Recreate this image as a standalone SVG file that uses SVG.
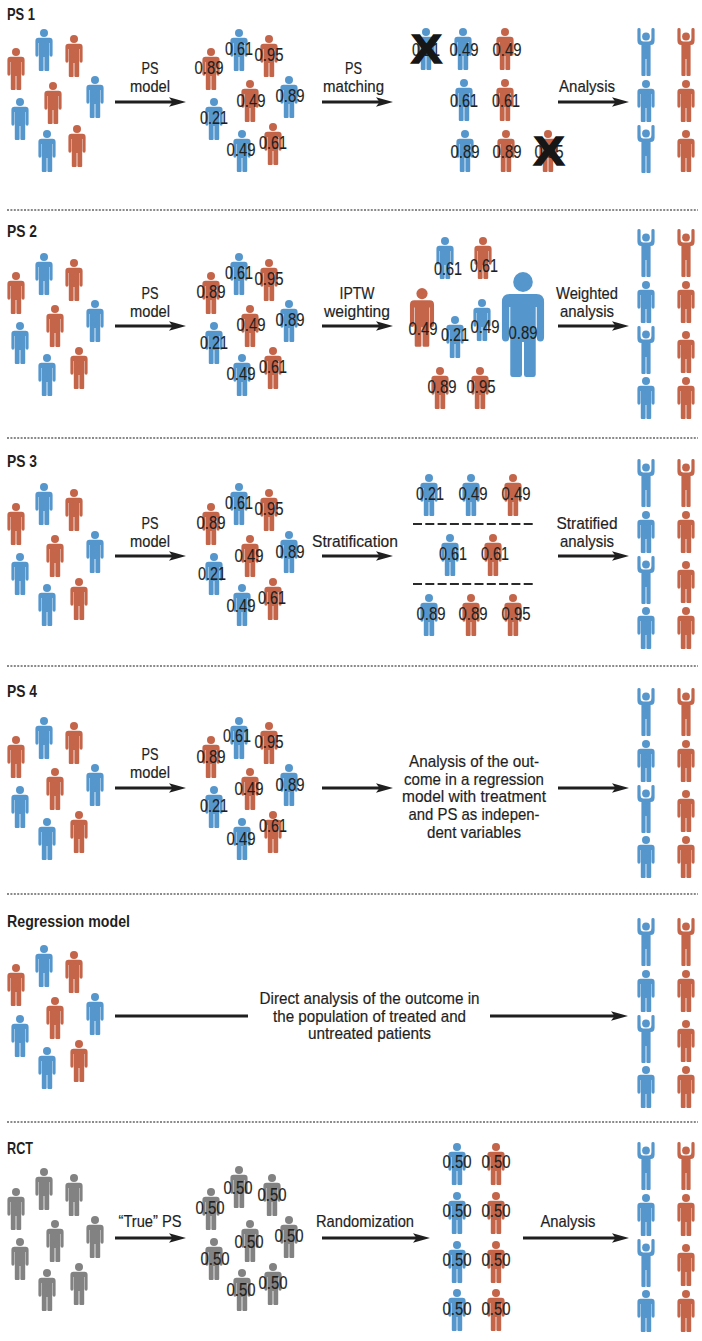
<svg xmlns="http://www.w3.org/2000/svg" width="702" height="1341" viewBox="0 0 702 1341">
<style>
  .b{fill:#5597cd}
  .r{fill:#c4654a}
  .g{fill:#828282}
  text{font-family:"Liberation Sans",Arial,sans-serif;fill:#1f1f1f}
  .h{font-size:16.5px;font-weight:700}
  .l{font-size:17px;text-anchor:middle;stroke:#1f1f1f;stroke-width:.2}
  .v{font-size:18px;text-anchor:middle;stroke:#1f1f1f;stroke-width:.15}
  .x{font-size:41px;font-weight:700;text-anchor:middle;fill:#161616;stroke:#161616;stroke-width:1.4}
  .c{fill:none;stroke:#1f1f1f;stroke-width:3}
  .d{fill:none;stroke:#8a8a8a;stroke-width:2;stroke-dasharray:2 1.4}
  .s{fill:none;stroke:#2a2a2a;stroke-width:2;stroke-dasharray:9 3.3}
</style>
<defs>
  <marker id="head" markerUnits="userSpaceOnUse" markerWidth="17" markerHeight="10" refX="7" refY="5" orient="auto">
    <path d="M0 0.3L17 5L0 9.7L3.5 5Z" fill="#1f1f1f"/>
  </marker>
  <!-- standing figure: origin at the top centre of the head -->
  <g id="p">
    <circle cx="0" cy="4" r="4"/>
    <path d="M-5.5 8.8H5.5Q8.6 8.8 8.6 12V26Q8.6 27.8 7.1 27.8Q5.6 27.8 5.6 26V14H5.2V41Q5.2 42 4.2 42H1.4Q.4 42 .4 41V28H-.4V41Q-.4 42 -1.4 42H-4.2Q-5.2 42 -5.2 41V14H-5.6V26Q-5.6 27.8 -7.1 27.8Q-8.6 27.8 -8.6 26V12Q-8.6 8.8 -5.5 8.8Z"/>
  </g>
  <!-- figure with both arms raised -->
  <g id="u">
    <circle cx="0" cy="8.5" r="3.9"/>
    <path d="M-8.6 1.4Q-8.6 0 -7 0Q-5.4 0 -5.4 1.4V10Q-5.4 13.5 -2.5 13.5H2.5Q5.4 13.5 5.4 10V1.4Q5.4 0 7 0Q8.6 0 8.6 1.4V12.5Q8.6 17 4.6 17V47Q4.6 48 3.6 48H1.3Q.4 48 .4 47V31H-.4V47Q-.4 48 -1.3 48H-3.6Q-4.6 48 -4.6 47V17Q-8.6 17 -8.6 12.5Z"/>
  </g>
  <!-- four-row outcome column pair -->
  <g id="out4">
    <use href="#u" x="646" y="0" class="b"/><use href="#u" x="686" y="0" class="r"/>
    <use href="#p" x="646" y="52" class="b"/><use href="#p" x="686" y="52" class="r"/>
    <use href="#u" x="646" y="97" class="b"/><use href="#p" x="686" y="102" class="r"/>
    <use href="#p" x="646" y="148" class="b"/><use href="#p" x="686" y="148" class="r"/>
  </g>
</defs>
<rect width="702" height="1341" fill="#fff"/>

<g id="separators">
  <line class="d" x1="7" x2="698" y1="210" y2="210"/>
  <line class="d" x1="7" x2="698" y1="438" y2="438"/>
  <line class="d" x1="7" x2="698" y1="666" y2="666"/>
  <line class="d" x1="7" x2="698" y1="894" y2="894"/>
  <line class="d" x1="7" x2="698" y1="1122" y2="1122"/>
</g>

<g id="headings">
  <text class="h" x="7" y="20" textLength="28" lengthAdjust="spacingAndGlyphs">PS 1</text>
  <text class="h" x="7" y="237" textLength="30" lengthAdjust="spacingAndGlyphs">PS 2</text>
  <text class="h" x="7" y="467" textLength="30" lengthAdjust="spacingAndGlyphs">PS 3</text>
  <text class="h" x="7" y="697" textLength="30" lengthAdjust="spacingAndGlyphs">PS 4</text>
  <text class="h" x="7" y="927" textLength="123" lengthAdjust="spacingAndGlyphs">Regression model</text>
  <text class="h" x="7" y="1154" textLength="26" lengthAdjust="spacingAndGlyphs">RCT</text>
</g>

<g id="connectors">
  <line class="c" x1="115" x2="176" y1="102" y2="102" marker-end="url(#head)"/>
  <line class="c" x1="322" x2="383" y1="102" y2="102" marker-end="url(#head)"/>
  <line class="c" x1="558" x2="619" y1="102" y2="102" marker-end="url(#head)"/>
  <line class="c" x1="115" x2="176" y1="326" y2="326" marker-end="url(#head)"/>
  <line class="c" x1="322" x2="383" y1="326" y2="326" marker-end="url(#head)"/>
  <line class="c" x1="558" x2="619" y1="326" y2="326" marker-end="url(#head)"/>
  <line class="c" x1="115" x2="176" y1="556" y2="556" marker-end="url(#head)"/>
  <line class="c" x1="322" x2="383" y1="556" y2="556" marker-end="url(#head)"/>
  <line class="c" x1="558" x2="619" y1="556" y2="556" marker-end="url(#head)"/>
  <line class="c" x1="115" x2="176" y1="788" y2="788" marker-end="url(#head)"/>
  <line class="c" x1="322" x2="383" y1="788" y2="788" marker-end="url(#head)"/>
  <line class="c" x1="558" x2="619" y1="788" y2="788" marker-end="url(#head)"/>
  <line class="c" x1="115" x2="248" y1="1016" y2="1016"/>
  <line class="c" x1="490" x2="618" y1="1016" y2="1016" marker-end="url(#head)"/>
  <line class="c" x1="115" x2="176" y1="1238" y2="1238" marker-end="url(#head)"/>
  <line class="c" x1="322" x2="420" y1="1238" y2="1238" marker-end="url(#head)"/>
  <line class="c" x1="523" x2="619" y1="1238" y2="1238" marker-end="url(#head)"/>
</g>

<g id="connector-labels">
  <text class="l" x="150" y="74" textLength="17" lengthAdjust="spacingAndGlyphs">PS</text>
  <text class="l" x="150" y="92" textLength="40" lengthAdjust="spacingAndGlyphs">model</text>
  <text class="l" x="353.5" y="74" textLength="17" lengthAdjust="spacingAndGlyphs">PS</text>
  <text class="l" x="353.5" y="92" textLength="61" lengthAdjust="spacingAndGlyphs">matching</text>
  <text class="l" x="587" y="92" textLength="56" lengthAdjust="spacingAndGlyphs">Analysis</text>

  <text class="l" x="150" y="299" textLength="17" lengthAdjust="spacingAndGlyphs">PS</text>
  <text class="l" x="150" y="317" textLength="40" lengthAdjust="spacingAndGlyphs">model</text>
  <text class="l" x="357" y="299" textLength="35" lengthAdjust="spacingAndGlyphs">IPTW</text>
  <text class="l" x="357" y="317" textLength="66" lengthAdjust="spacingAndGlyphs">weighting</text>
  <text class="l" x="587" y="299" textLength="62" lengthAdjust="spacingAndGlyphs">Weighted</text>
  <text class="l" x="587" y="317" textLength="54" lengthAdjust="spacingAndGlyphs">analysis</text>

  <text class="l" x="150" y="529" textLength="17" lengthAdjust="spacingAndGlyphs">PS</text>
  <text class="l" x="150" y="547" textLength="40" lengthAdjust="spacingAndGlyphs">model</text>
  <text class="l" x="355" y="547" textLength="86" lengthAdjust="spacingAndGlyphs">Stratification</text>
  <text class="l" x="587" y="529" textLength="61" lengthAdjust="spacingAndGlyphs">Stratified</text>
  <text class="l" x="587" y="547" textLength="54" lengthAdjust="spacingAndGlyphs">analysis</text>

  <text class="l" x="150" y="760" textLength="17" lengthAdjust="spacingAndGlyphs">PS</text>
  <text class="l" x="150" y="778" textLength="40" lengthAdjust="spacingAndGlyphs">model</text>

  <text class="l" x="150" y="1227" textLength="63" lengthAdjust="spacingAndGlyphs">“True” PS</text>
  <text class="l" x="365" y="1227" textLength="98" lengthAdjust="spacingAndGlyphs">Randomization</text>
  <text class="l" x="568" y="1227" textLength="55" lengthAdjust="spacingAndGlyphs">Analysis</text>
</g>

<!-- PS 1 -->
<g id="ps1-population">
  <use href="#p" x="16" y="48" class="r"/><use href="#p" x="44" y="29" class="b"/><use href="#p" x="74" y="35" class="r"/><use href="#p" x="95" y="76" class="b"/>
  <use href="#p" x="53" y="82" class="r"/><use href="#p" x="20" y="98" class="b"/><use href="#p" x="47" y="130" class="b"/><use href="#p" x="77" y="125" class="r"/>
</g>
<g id="ps1-scored">
  <use href="#p" x="211" y="48" class="r"/><use href="#p" x="239" y="29" class="b"/><use href="#p" x="269" y="35" class="r"/><use href="#p" x="289" y="76" class="b"/>
  <use href="#p" x="250" y="80" class="r"/><use href="#p" x="214" y="98" class="b"/><use href="#p" x="242" y="130" class="b"/><use href="#p" x="273" y="123" class="r"/>
  <text class="v" x="209" y="74" textLength="29" lengthAdjust="spacingAndGlyphs">0.89</text>
  <text class="v" x="239" y="55" textLength="28" lengthAdjust="spacingAndGlyphs">0.61</text>
  <text class="v" x="269" y="61" textLength="29" lengthAdjust="spacingAndGlyphs">0.95</text>
  <text class="v" x="290" y="102" textLength="29" lengthAdjust="spacingAndGlyphs">0.89</text>
  <text class="v" x="251" y="107" textLength="29" lengthAdjust="spacingAndGlyphs">0.49</text>
  <text class="v" x="214" y="124" textLength="28" lengthAdjust="spacingAndGlyphs">0.21</text>
  <text class="v" x="241" y="156" textLength="29" lengthAdjust="spacingAndGlyphs">0.49</text>
  <text class="v" x="273" y="149" textLength="28" lengthAdjust="spacingAndGlyphs">0.61</text>
</g>
<g id="ps1-matched">
  <use href="#p" x="426" y="28" class="b"/><use href="#p" x="463" y="28" class="b"/><use href="#p" x="505" y="28" class="r"/>
  <use href="#p" x="464" y="79" class="b"/><use href="#p" x="505" y="79" class="r"/>
  <use href="#p" x="465" y="130" class="b"/><use href="#p" x="506" y="130" class="r"/><use href="#p" x="548" y="130" class="r"/>
  <text class="v" x="426" y="56" textLength="28" lengthAdjust="spacingAndGlyphs">0.21</text>
  <text class="v" x="464" y="56" textLength="29" lengthAdjust="spacingAndGlyphs">0.49</text>
  <text class="v" x="507" y="56" textLength="29" lengthAdjust="spacingAndGlyphs">0.49</text>
  <text class="v" x="464" y="107" textLength="28" lengthAdjust="spacingAndGlyphs">0.61</text>
  <text class="v" x="506" y="107" textLength="28" lengthAdjust="spacingAndGlyphs">0.61</text>
  <text class="v" x="465" y="158" textLength="29" lengthAdjust="spacingAndGlyphs">0.89</text>
  <text class="v" x="507" y="158" textLength="29" lengthAdjust="spacingAndGlyphs">0.89</text>
  <text class="v" x="549" y="158" textLength="29" lengthAdjust="spacingAndGlyphs">0.95</text>
  <text class="x" x="426.5" y="63" textLength="31" lengthAdjust="spacingAndGlyphs">X</text>
  <text class="x" x="549" y="165" textLength="31" lengthAdjust="spacingAndGlyphs">X</text>
</g>
<g id="ps1-outcomes">
  <use href="#u" x="646" y="28" class="b"/><use href="#u" x="686" y="28" class="r"/>
  <use href="#p" x="646" y="80" class="b"/><use href="#p" x="686" y="80" class="r"/>
  <use href="#u" x="646" y="125" class="b"/><use href="#p" x="686" y="130" class="r"/>
</g>

<!-- PS 2 -->
<g id="ps2-population">
  <use href="#p" x="16" y="272" class="r"/><use href="#p" x="44" y="253" class="b"/><use href="#p" x="74" y="259" class="r"/><use href="#p" x="95" y="300" class="b"/>
  <use href="#p" x="55" y="305" class="r"/><use href="#p" x="20" y="322" class="b"/><use href="#p" x="47" y="354" class="b"/><use href="#p" x="79" y="347" class="r"/>
</g>
<g id="ps2-scored">
  <use href="#p" x="211" y="272" class="r"/><use href="#p" x="239" y="253" class="b"/><use href="#p" x="269" y="259" class="r"/><use href="#p" x="289" y="300" class="b"/>
  <use href="#p" x="250" y="305" class="r"/><use href="#p" x="214" y="322" class="b"/><use href="#p" x="242" y="354" class="b"/><use href="#p" x="273" y="347" class="r"/>
  <text class="v" x="211" y="298" textLength="29" lengthAdjust="spacingAndGlyphs">0.89</text>
  <text class="v" x="239" y="279" textLength="28" lengthAdjust="spacingAndGlyphs">0.61</text>
  <text class="v" x="269" y="285" textLength="29" lengthAdjust="spacingAndGlyphs">0.95</text>
  <text class="v" x="290" y="326" textLength="29" lengthAdjust="spacingAndGlyphs">0.89</text>
  <text class="v" x="251" y="331" textLength="29" lengthAdjust="spacingAndGlyphs">0.49</text>
  <text class="v" x="214" y="349" textLength="28" lengthAdjust="spacingAndGlyphs">0.21</text>
  <text class="v" x="241" y="380" textLength="29" lengthAdjust="spacingAndGlyphs">0.49</text>
  <text class="v" x="273" y="373" textLength="28" lengthAdjust="spacingAndGlyphs">0.61</text>
</g>
<g id="ps2-weighted">
  <use href="#p" x="445" y="237" class="b"/><use href="#p" x="483" y="237" class="r"/>
  <use href="#p" transform="translate(422 288) scale(1.4)" class="r"/>
  <use href="#p" x="455" y="316" class="b"/><use href="#p" x="482" y="299" class="b"/>
  <use href="#p" transform="translate(523 272) scale(2.45 2.5)" class="b"/>
  <use href="#p" x="440" y="367" class="r"/><use href="#p" x="480" y="367" class="r"/>
  <text class="v" x="448" y="275" textLength="28" lengthAdjust="spacingAndGlyphs">0.61</text>
  <text class="v" x="484" y="272" textLength="28" lengthAdjust="spacingAndGlyphs">0.61</text>
  <text class="v" x="423" y="335" textLength="29" lengthAdjust="spacingAndGlyphs">0.49</text>
  <text class="v" x="455" y="341" textLength="28" lengthAdjust="spacingAndGlyphs">0.21</text>
  <text class="v" x="485" y="333" textLength="29" lengthAdjust="spacingAndGlyphs">0.49</text>
  <text class="v" x="523" y="339" textLength="29" lengthAdjust="spacingAndGlyphs">0.89</text>
  <text class="v" x="442" y="393" textLength="29" lengthAdjust="spacingAndGlyphs">0.89</text>
  <text class="v" x="481" y="393" textLength="29" lengthAdjust="spacingAndGlyphs">0.95</text>
</g>
<g id="ps2-outcomes"><use href="#out4" y="229"/></g>

<!-- PS 3 -->
<g id="ps3-population">
  <use href="#p" x="16" y="503" class="r"/><use href="#p" x="44" y="483" class="b"/><use href="#p" x="74" y="489" class="r"/><use href="#p" x="95" y="531" class="b"/>
  <use href="#p" x="55" y="535" class="r"/><use href="#p" x="20" y="553" class="b"/><use href="#p" x="47" y="584" class="b"/><use href="#p" x="79" y="578" class="r"/>
</g>
<g id="ps3-scored">
  <use href="#p" x="211" y="503" class="r"/><use href="#p" x="239" y="483" class="b"/><use href="#p" x="269" y="489" class="r"/><use href="#p" x="289" y="531" class="b"/>
  <use href="#p" x="250" y="535" class="r"/><use href="#p" x="214" y="553" class="b"/><use href="#p" x="242" y="584" class="b"/><use href="#p" x="273" y="578" class="r"/>
  <text class="v" x="211" y="529" textLength="29" lengthAdjust="spacingAndGlyphs">0.89</text>
  <text class="v" x="239" y="509" textLength="28" lengthAdjust="spacingAndGlyphs">0.61</text>
  <text class="v" x="269" y="515" textLength="29" lengthAdjust="spacingAndGlyphs">0.95</text>
  <text class="v" x="290" y="558" textLength="29" lengthAdjust="spacingAndGlyphs">0.89</text>
  <text class="v" x="249" y="562" textLength="29" lengthAdjust="spacingAndGlyphs">0.49</text>
  <text class="v" x="212" y="580" textLength="28" lengthAdjust="spacingAndGlyphs">0.21</text>
  <text class="v" x="241" y="612" textLength="29" lengthAdjust="spacingAndGlyphs">0.49</text>
  <text class="v" x="272" y="604" textLength="28" lengthAdjust="spacingAndGlyphs">0.61</text>
</g>
<g id="ps3-strata">
  <use href="#p" x="429" y="474" class="b"/><use href="#p" x="471" y="474" class="b"/><use href="#p" x="513" y="474" class="r"/>
  <line class="s" x1="413" x2="534" y1="524" y2="524"/>
  <use href="#p" x="450" y="534" class="b"/><use href="#p" x="493" y="534" class="r"/>
  <line class="s" x1="413" x2="534" y1="584" y2="584"/>
  <use href="#p" x="429" y="594" class="b"/><use href="#p" x="471" y="594" class="r"/><use href="#p" x="513" y="594" class="r"/>
  <text class="v" x="430" y="500" textLength="28" lengthAdjust="spacingAndGlyphs">0.21</text>
  <text class="v" x="473" y="500" textLength="29" lengthAdjust="spacingAndGlyphs">0.49</text>
  <text class="v" x="516" y="500" textLength="29" lengthAdjust="spacingAndGlyphs">0.49</text>
  <text class="v" x="453" y="560" textLength="28" lengthAdjust="spacingAndGlyphs">0.61</text>
  <text class="v" x="495" y="560" textLength="28" lengthAdjust="spacingAndGlyphs">0.61</text>
  <text class="v" x="431" y="620" textLength="29" lengthAdjust="spacingAndGlyphs">0.89</text>
  <text class="v" x="473" y="620" textLength="29" lengthAdjust="spacingAndGlyphs">0.89</text>
  <text class="v" x="516" y="620" textLength="29" lengthAdjust="spacingAndGlyphs">0.95</text>
</g>
<g id="ps3-outcomes"><use href="#out4" y="459"/></g>

<!-- PS 4 -->
<g id="ps4-population">
  <use href="#p" x="16" y="736" class="r"/><use href="#p" x="44" y="717" class="b"/><use href="#p" x="74" y="722" class="r"/><use href="#p" x="95" y="764" class="b"/>
  <use href="#p" x="55" y="768" class="r"/><use href="#p" x="20" y="786" class="b"/><use href="#p" x="47" y="818" class="b"/><use href="#p" x="79" y="811" class="r"/>
</g>
<g id="ps4-scored">
  <use href="#p" x="211" y="736" class="r"/><use href="#p" x="239" y="717" class="b"/><use href="#p" x="269" y="722" class="r"/><use href="#p" x="289" y="764" class="b"/>
  <use href="#p" x="250" y="768" class="r"/><use href="#p" x="214" y="786" class="b"/><use href="#p" x="242" y="818" class="b"/><use href="#p" x="273" y="811" class="r"/>
  <text class="v" x="211" y="763" textLength="29" lengthAdjust="spacingAndGlyphs">0.89</text>
  <text class="v" x="237" y="742" textLength="28" lengthAdjust="spacingAndGlyphs">0.61</text>
  <text class="v" x="269" y="748" textLength="29" lengthAdjust="spacingAndGlyphs">0.95</text>
  <text class="v" x="290" y="791" textLength="29" lengthAdjust="spacingAndGlyphs">0.89</text>
  <text class="v" x="249" y="795" textLength="29" lengthAdjust="spacingAndGlyphs">0.49</text>
  <text class="v" x="214" y="812" textLength="28" lengthAdjust="spacingAndGlyphs">0.21</text>
  <text class="v" x="241" y="845" textLength="29" lengthAdjust="spacingAndGlyphs">0.49</text>
  <text class="v" x="273" y="832" textLength="28" lengthAdjust="spacingAndGlyphs">0.61</text>
</g>
<g id="ps4-analysis">
  <text class="l" x="474" y="767" textLength="130" lengthAdjust="spacingAndGlyphs">Analysis of the out-</text>
  <text class="l" x="474" y="785" textLength="140" lengthAdjust="spacingAndGlyphs">come in a regression</text>
  <text class="l" x="474" y="802" textLength="144" lengthAdjust="spacingAndGlyphs">model with treatment</text>
  <text class="l" x="474" y="820" textLength="131" lengthAdjust="spacingAndGlyphs">and PS as indepen-</text>
  <text class="l" x="474" y="838" textLength="94" lengthAdjust="spacingAndGlyphs">dent variables</text>
</g>
<g id="ps4-outcomes"><use href="#out4" y="688"/></g>

<!-- Regression model -->
<g id="regression-population">
  <use href="#p" x="16" y="964" class="r"/><use href="#p" x="44" y="945" class="b"/><use href="#p" x="74" y="951" class="r"/><use href="#p" x="95" y="993" class="b"/>
  <use href="#p" x="55" y="997" class="r"/><use href="#p" x="20" y="1015" class="b"/><use href="#p" x="47" y="1047" class="b"/><use href="#p" x="79" y="1040" class="r"/>
</g>
<g id="regression-analysis">
  <text class="l" x="369.5" y="1004" textLength="220" lengthAdjust="spacingAndGlyphs">Direct analysis of the outcome in</text>
  <text class="l" x="369.5" y="1022" textLength="193" lengthAdjust="spacingAndGlyphs">the population of treated and</text>
  <text class="l" x="369.5" y="1039" textLength="123" lengthAdjust="spacingAndGlyphs">untreated patients</text>
</g>
<g id="regression-outcomes"><use href="#out4" y="918"/></g>

<!-- RCT -->
<g id="rct-population">
  <use href="#p" x="16" y="1188" class="g"/><use href="#p" x="44" y="1168" class="g"/><use href="#p" x="74" y="1174" class="g"/><use href="#p" x="95" y="1216" class="g"/>
  <use href="#p" x="55" y="1220" class="g"/><use href="#p" x="20" y="1238" class="g"/><use href="#p" x="47" y="1269" class="g"/><use href="#p" x="79" y="1263" class="g"/>
</g>
<g id="rct-scored">
  <use href="#p" x="211" y="1188" class="g"/><use href="#p" x="239" y="1166" class="g"/><use href="#p" x="272" y="1174" class="g"/><use href="#p" x="289" y="1216" class="g"/>
  <use href="#p" x="250" y="1220" class="g"/><use href="#p" x="214" y="1238" class="g"/><use href="#p" x="242" y="1269" class="g"/><use href="#p" x="273" y="1263" class="g"/>
  <text class="v" x="210" y="1214" textLength="29" lengthAdjust="spacingAndGlyphs">0.50</text>
  <text class="v" x="238" y="1194" textLength="29" lengthAdjust="spacingAndGlyphs">0.50</text>
  <text class="v" x="272" y="1201" textLength="29" lengthAdjust="spacingAndGlyphs">0.50</text>
  <text class="v" x="289" y="1242" textLength="29" lengthAdjust="spacingAndGlyphs">0.50</text>
  <text class="v" x="249" y="1248" textLength="29" lengthAdjust="spacingAndGlyphs">0.50</text>
  <text class="v" x="215" y="1265" textLength="29" lengthAdjust="spacingAndGlyphs">0.50</text>
  <text class="v" x="241" y="1296" textLength="29" lengthAdjust="spacingAndGlyphs">0.50</text>
  <text class="v" x="273" y="1289" textLength="29" lengthAdjust="spacingAndGlyphs">0.50</text>
</g>
<g id="rct-randomized">
  <use href="#p" x="457" y="1143" class="b"/><use href="#p" x="496" y="1143" class="r"/>
  <use href="#p" x="457" y="1192" class="b"/><use href="#p" x="496" y="1192" class="r"/>
  <use href="#p" x="457" y="1241" class="b"/><use href="#p" x="496" y="1241" class="r"/>
  <use href="#p" x="457" y="1289" class="b"/><use href="#p" x="496" y="1289" class="r"/>
  <text class="v" x="457" y="1168" textLength="29" lengthAdjust="spacingAndGlyphs">0.50</text>
  <text class="v" x="496" y="1168" textLength="29" lengthAdjust="spacingAndGlyphs">0.50</text>
  <text class="v" x="457" y="1217" textLength="29" lengthAdjust="spacingAndGlyphs">0.50</text>
  <text class="v" x="496" y="1217" textLength="29" lengthAdjust="spacingAndGlyphs">0.50</text>
  <text class="v" x="457" y="1266" textLength="29" lengthAdjust="spacingAndGlyphs">0.50</text>
  <text class="v" x="496" y="1266" textLength="29" lengthAdjust="spacingAndGlyphs">0.50</text>
  <text class="v" x="457" y="1315" textLength="29" lengthAdjust="spacingAndGlyphs">0.50</text>
  <text class="v" x="496" y="1315" textLength="29" lengthAdjust="spacingAndGlyphs">0.50</text>
</g>
<g id="rct-outcomes"><use href="#out4" y="1142"/></g>
</svg>
